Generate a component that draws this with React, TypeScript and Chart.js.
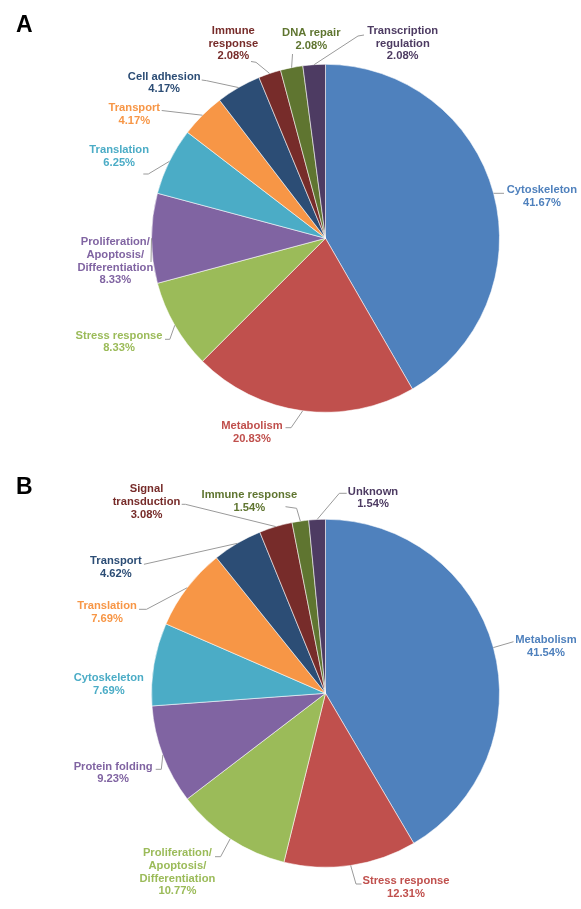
import React, { useEffect, useRef } from 'react';
import { Chart, registerables } from 'chart.js';

Chart.register(...registerables);

// ---------- data ----------
const categoriesA = [
  'Cytoskeleton',
  'Metabolism',
  'Stress response',
  'Proliferation/Apoptosis/Differentiation',
  'Translation',
  'Transport',
  'Cell adhesion',
  'Immune response',
  'DNA repair',
  'Transcription regulation',
];
const valuesA = [41.67, 20.83, 8.33, 8.33, 6.25, 4.17, 4.17, 2.08, 2.08, 2.08];

const categoriesB = [
  'Metabolism',
  'Stress response',
  'Proliferation/Apoptosis/Differentiation',
  'Protein folding',
  'Cytoskeleton',
  'Translation',
  'Transport',
  'Signal transduction',
  'Immune response',
  'Unknown',
];
const valuesB = [41.54, 12.31, 10.77, 9.23, 7.69, 7.69, 4.62, 3.08, 1.54, 1.54];

// ---------- styles ----------
const palette = [
  '#4F81BD', '#C0504D', '#9BBB59', '#8064A2', '#4BACC6',
  '#F79646', '#2C4D75', '#772C2A', '#5F7530', '#4D3B62',
];

type Pt = [number, number];
type LabelLayout = { at: Pt; leader: Pt[]; wrap?: boolean };

// label block centre & leader elbows, relative to the pie centre (px)
const layoutA: LabelLayout[] = [
  { at: [216.4, -42.1], leader: [[178.5, -45]] },
  { at: [-73.6, 194], leader: [[-40, 189.4], [-34.4, 189.4]] },
  { at: [-206.5, 103.7], leader: [[-160.5, 101], [-155.7, 101]] },
  { at: [-210.2, 23], leader: [[-174.5, 23.7]], wrap: true },
  { at: [-206.3, -81.8], leader: [[-182.2, -64.3], [-177.2, -64.3]] },
  { at: [-191.2, -123.6], leader: [[-163.8, -127.8]] },
  { at: [-161.3, -155.3], leader: [[-123.8, -158.3], [-118.8, -157.6]] },
  { at: [-92.2, -194.6], leader: [[-74.5, -176.8], [-69.5, -176]], wrap: true },
  { at: [-14.2, -198.6], leader: [[-33, -184.3]] },
  { at: [77.2, -194.6], leader: [[38.5, -203.3], [32.5, -202.3]], wrap: true },
];

const layoutB: LabelLayout[] = [
  { at: [220.5, -47], leader: [[188, -51.6]] },
  { at: [80.5, 194], leader: [[36, 190.7], [30.5, 190.7]] },
  { at: [-148.1, 178.9], leader: [[-110.5, 163.4], [-104.9, 163.4]], wrap: true },
  { at: [-212.4, 79.7], leader: [[-169.8, 76], [-164.2, 76]] },
  { at: [-216.7, -8.6], leader: [] },
  { at: [-218.5, -81], leader: [[-186.5, -84], [-179, -84]] },
  { at: [-209.6, -126], leader: [[-181.6, -129]] },
  { at: [-179, -191.3], leader: [[-143.8, -189], [-140.1, -189]], wrap: true },
  { at: [-76.1, -192], leader: [[-40, -186.6], [-28.9, -185]] },
  { at: [47.5, -195.3], leader: [[21.2, -200], [13.8, -200]] },
];

const FONT = '"Liberation Sans", Arial, Helvetica, sans-serif';
const LINE_H = 12.7;

function splitLabel(s: string): string[] {
  const parts: string[] = [];
  s.split(' ').forEach((w) => {
    const segs = w.split('/');
    segs.forEach((seg, j) => {
      if (seg === '') return;
      parts.push(j < segs.length - 1 ? seg + '/' : seg);
    });
  });
  return parts;
}

function makeLabelPlugin(layout: LabelLayout[], title: string, titleBaseline: number) {
  return {
    id: 'pieLabels',
    afterDatasetsDraw(chart: any) {
      const ctx: CanvasRenderingContext2D = chart.ctx;
      const meta = chart.getDatasetMeta(0);
      const labels: string[] = chart.data.labels;
      const values: number[] = chart.data.datasets[0].data;
      const colors: string[] = chart.data.datasets[0].backgroundColor;
      ctx.save();
      meta.data.forEach((arc: any, i: number) => {
        const p = arc.getProps(['x', 'y', 'startAngle', 'endAngle', 'outerRadius'], true);
        const mid = (p.startAngle + p.endAngle) / 2;
        const ax = p.x + Math.cos(mid) * p.outerRadius;
        const ay = p.y + Math.sin(mid) * p.outerRadius;
        const lay = layout[i];
        if (lay.leader.length) {
          ctx.beginPath();
          ctx.strokeStyle = '#9A9A9A';
          ctx.lineWidth = 1;
          lay.leader.forEach((pt, k) => {
            const lx = p.x + pt[0];
            const ly = p.y + pt[1];
            if (k === 0) ctx.moveTo(lx, ly);
            else ctx.lineTo(lx, ly);
          });
          ctx.lineTo(ax, ay);
          ctx.stroke();
        }
        const lines = lay.wrap ? splitLabel(labels[i]) : [labels[i]];
        lines.push(values[i].toFixed(2) + '%');
        const cx = p.x + lay.at[0];
        const cy = p.y + lay.at[1];
        const top = cy - ((lines.length - 1) * LINE_H) / 2;
        ctx.fillStyle = colors[i];
        ctx.font = `bold 11.2px ${FONT}`;
        ctx.textAlign = 'center';
        ctx.textBaseline = 'middle';
        lines.forEach((ln, k) => ctx.fillText(ln, cx, top + k * LINE_H));
      });
      ctx.fillStyle = '#000';
      ctx.font = `bold 23px ${FONT}`;
      ctx.textAlign = 'left';
      ctx.textBaseline = 'alphabetic';
      ctx.fillText(title, 16, titleBaseline);
      ctx.restore();
    },
  };
}

function PieChart(props: {
  labels: string[];
  values: number[];
  layout: LabelLayout[];
  title: string;
  titleBaseline: number;
  height: number;
}) {
  const ref = useRef<HTMLCanvasElement>(null);
  useEffect(() => {
    const chart = new Chart(ref.current as HTMLCanvasElement, {
      type: 'pie',
      data: {
        labels: props.labels,
        datasets: [
          {
            data: props.values,
            backgroundColor: palette,
            borderColor: 'rgba(255,255,255,0.55)',
            borderWidth: 1,
            hoverOffset: 0,
          },
        ],
      },
      options: {
        responsive: false,
        animation: false,
        devicePixelRatio: 1,
        layout: {
          padding: { left: 151, right: 81, top: 63.8, bottom: props.height - 63.8 - 349 },
        },
        plugins: {
          legend: { display: false },
          tooltip: { enabled: false },
        },
      } as any,
      plugins: [makeLabelPlugin(props.layout, props.title, props.titleBaseline)],
    });
    return () => chart.destroy();
  }, []);
  return (
    <canvas
      ref={ref}
      width={581}
      height={props.height}
      style={{ display: 'block', width: 581, height: props.height }}
    />
  );
}

export default function App() {
  return (
    <div style={{ position: 'absolute', left: 0, top: 0, width: 581, height: 909, background: '#fff' }}>
      <PieChart labels={categoriesA} values={valuesA} layout={layoutA} title="A" titleBaseline={32} height={455} />
      <PieChart labels={categoriesB} values={valuesB} layout={layoutB} title="B" titleBaseline={39} height={454} />
    </div>
  );
}
